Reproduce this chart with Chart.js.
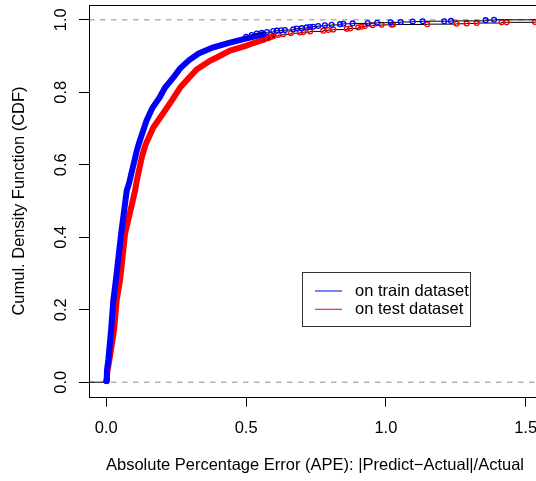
<!DOCTYPE html>
<html><head><meta charset="utf-8">
<script src="https://cdn.jsdelivr.net/npm/chart.js@4"></script>
<style>html,body{margin:0;padding:0;overflow:hidden;background:#fff}canvas{display:block}</style>
</head><body>
<canvas id="c" width="560" height="481"></canvas>
<script>
// ---- data ----
const trainDenseApe = [0.000,0.002,0.007,0.017,0.025,0.034,0.053,0.073,0.081,0.109,0.120,0.144,0.165,0.190,0.210,0.240,0.264,0.295,0.330,0.383,0.442,0.502,0.562];
const trainDenseCdf = [0.003,0.030,0.061,0.143,0.226,0.281,0.410,0.529,0.548,0.639,0.667,0.722,0.757,0.785,0.813,0.841,0.866,0.888,0.907,0.924,0.937,0.949,0.960];
const trainTailApe = [0.500,0.520,0.538,0.556,0.575,0.597,0.610,0.625,0.639,0.669,0.681,0.699,0.717,0.729,0.740,0.758,0.782,0.806,0.836,0.848,0.881,0.935,0.969,1.017,1.053,1.096,1.132,1.209,1.233,1.357,1.387];
const trainTailCdf = [0.953,0.958,0.962,0.964,0.966,0.969,0.970,0.971,0.972,0.974,0.976,0.977,0.979,0.980,0.981,0.983,0.985,0.986,0.988,0.989,0.990,0.991,0.992,0.993,0.994,0.995,0.996,0.996,0.997,0.999,1.000];
const testDenseApe = [0.000,0.004,0.011,0.0275,0.037,0.049,0.067,0.103,0.109,0.127,0.140,0.168,0.204,0.234,0.264,0.299,0.323,0.371,0.395,0.442,0.502,0.562,0.597];
const testDenseCdf = [0.003,0.030,0.061,0.143,0.226,0.281,0.410,0.529,0.556,0.621,0.655,0.703,0.743,0.777,0.813,0.843,0.863,0.887,0.896,0.915,0.929,0.945,0.955];
const testTailApe = [0.562,0.580,0.597,0.615,0.633,0.660,0.693,0.705,0.729,0.776,0.794,0.812,0.860,0.872,0.901,0.913,0.925,0.953,0.985,1.021,1.026,1.148,1.253,1.289,1.325,1.414,1.432,1.533];
const testTailCdf = [0.945,0.950,0.955,0.958,0.960,0.963,0.965,0.966,0.968,0.970,0.972,0.973,0.975,0.976,0.979,0.981,0.983,0.985,0.986,0.986,0.987,0.988,0.989,0.990,0.991,0.993,0.993,0.994];

const xTicks = [0.0, 0.5, 1.0, 1.5];
const yTicks = [0.0, 0.2, 0.4, 0.6, 0.8, 1.0];
const refLines = [0, 1];
const seriesLabels = ['on train dataset', 'on test dataset'];
const xTitle = 'Absolute Percentage Error (APE): |Predict\u2212Actual|/Actual';
const yTitle = 'Cumul. Density Function (CDF)';

// ---- layout / style ----
const X_MIN = -0.062, X_MAX = 1.555, Y_MIN = -0.04, Y_MAX = 1.04;
const FAMILY = '"Liberation Sans", Arial, Helvetica, sans-serif';
const FSIZE = 16.5;
const BLUE = '#0000ff', RED = '#ff0000';

function pts(xs, ys) { return xs.map((x, i) => ({ x: x, y: ys[i] })); }
function tail(xs, ys) { const p = pts(xs, ys); p.push({ x: X_MAX, y: ys[ys.length - 1] }); return p; }

function tailSet(label, xs, ys, color) {
  const n = xs.length;
  return {
    label: label, data: tail(xs, ys), showLine: true, stepped: true,
    borderColor: '#000', borderWidth: 1, fill: false,
    pointRadius: ctx => ctx.dataIndex < n ? 2.4 : 0,
    pointBorderColor: color, pointBackgroundColor: 'rgba(0,0,0,0)', pointBorderWidth: 1.3
  };
}
function bandSet(label, xs, ys, color) {
  return {
    label: label, data: pts(xs, ys), showLine: true, borderColor: color, borderWidth: 6,
    borderCapStyle: 'round', borderJoinStyle: 'round', pointRadius: 0, fill: false, tension: 0
  };
}

const decor = {
  id: 'decor',
  beforeDatasetsDraw(chart) {
    const { ctx, chartArea: a, scales: { y } } = chart;
    ctx.save();
    ctx.strokeStyle = '#b3b3b3'; ctx.lineWidth = 1.5; ctx.setLineDash([5.5, 5.5]);
    refLines.forEach(v => {
      const py = y.getPixelForValue(v);
      ctx.beginPath(); ctx.moveTo(a.left, py); ctx.lineTo(a.right, py); ctx.stroke();
    });
    ctx.restore();
  },
  afterDatasetsDraw(chart) {
    const { ctx, chartArea: a, scales: { x, y } } = chart;
    ctx.save();
    // box
    ctx.strokeStyle = '#000'; ctx.lineWidth = 1;
    ctx.strokeRect(Math.round(a.left) + 0.5, Math.round(a.top) + 0.5, a.right - a.left, Math.round(a.bottom) - Math.round(a.top));
    // tick labels
    ctx.fillStyle = '#000'; ctx.font = FSIZE + 'px ' + FAMILY;
    ctx.textAlign = 'center'; ctx.textBaseline = 'alphabetic';
    xTicks.forEach(v => ctx.fillText(v.toFixed(1), x.getPixelForValue(v), 433));
    yTicks.forEach(v => {
      ctx.save(); ctx.translate(66, y.getPixelForValue(v)); ctx.rotate(-Math.PI / 2);
      ctx.fillText(v.toFixed(1), 0, 0); ctx.restore();
    });
    // legend
    ctx.strokeStyle = '#333'; ctx.lineWidth = 1;
    ctx.strokeRect(302.5, 272.5, 168, 54);
    const cols = [BLUE, RED], ly = [291, 309.3];
    ctx.textAlign = 'left'; ctx.textBaseline = 'middle';
    seriesLabels.forEach((t, i) => {
      ctx.strokeStyle = cols[i]; ctx.lineWidth = 1;
      ctx.beginPath(); ctx.moveTo(315, ly[i]); ctx.lineTo(342, ly[i]); ctx.stroke();
      ctx.fillText(t, 355, ly[i]);
    });
    ctx.restore();
  }
};

const tickGrid = { display: true, drawOnChartArea: false, drawTicks: true, tickLength: 10, tickColor: '#000', tickWidth: 1 };

new Chart(document.getElementById('c'), {
  type: 'scatter',
  data: {
    datasets: [
      tailSet(seriesLabels[0], trainTailApe, trainTailCdf, BLUE),
      bandSet(seriesLabels[0], trainDenseApe, trainDenseCdf, BLUE),
      tailSet(seriesLabels[1], testTailApe, testTailCdf, RED),
      bandSet(seriesLabels[1], testDenseApe, testDenseCdf, RED),
      { label: 'start', data: [{ x: X_MIN, y: 0 }, { x: trainDenseApe[0], y: 0 }], showLine: true, borderColor: '#000', borderWidth: 1, pointRadius: 0 }
    ]
  },
  options: {
    responsive: false, animation: false, devicePixelRatio: 1,
    layout: { padding: { left: 0, right: 19, top: 4, bottom: 0 } },
    plugins: { legend: { display: false }, tooltip: { enabled: false } },
    events: [],
    scales: {
      x: {
        type: 'linear', min: X_MIN, max: X_MAX,
        afterBuildTicks: s => { s.ticks = xTicks.map(v => ({ value: v })); },
        afterFit: s => { s.height = 84.3; },
        ticks: { display: false }, grid: tickGrid, border: { display: false },
        title: { display: true, text: xTitle, color: '#000', font: { family: FAMILY, size: FSIZE }, padding: { top: 0, bottom: 5.6 } }
      },
      y: {
        type: 'linear', min: Y_MIN, max: Y_MAX,
        afterBuildTicks: s => { s.ticks = yTicks.map(v => ({ value: v })); },
        afterFit: s => { s.width = 89; },
        ticks: { display: false }, grid: tickGrid, border: { display: false },
        title: { display: true, text: yTitle, color: '#000', font: { family: FAMILY, size: FSIZE }, padding: { top: 10, bottom: 0 } }
      }
    }
  },
  plugins: [decor]
});
</script>
</body></html>
